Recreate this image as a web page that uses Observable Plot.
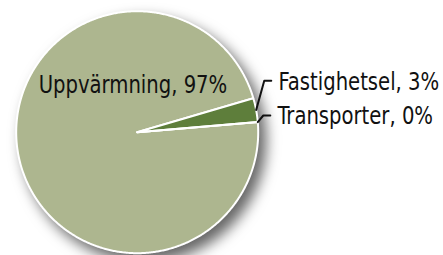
<!DOCTYPE html>
<html><head><meta charset="utf-8">
<script src="https://cdn.jsdelivr.net/npm/d3@7"></script>
<script src="https://cdn.jsdelivr.net/npm/@observablehq/plot@0.6"></script>
<style>body{margin:0;background:#fff}</style>
</head><body><div id="chart"></div>
<script>
// ---- data ----
const categories = ["Uppvärmning", "Fastighetsel", "Transporter"];
const shares = [96.8, 3.2, 0.0];
const labelPercents = ["97%", "3%", "0%"];
const colors = ["#adb68f", "#5e7e3b", "#8a9a5b"];

// ---- layout ----
const W = 443, H = 255;
const cx = 136.7, cy = 131.7, R = 121;
const startDeg = 85.2;
const labelLayout = {
  "Uppvärmning": {x: -0.035, y: 0.39, anchor: "middle", leader: false},
  "Fastighetsel": {x: 1.168, y: 0.415, anchor: "start", leader: true},
  "Transporter": {x: 1.160, y: 0.128, anchor: "start", leader: true}
};

const a0 = startDeg * Math.PI / 180;
const arcs = d3.pie().sort(null).startAngle(a0).endAngle(a0 + 2 * Math.PI)(shares);

const slicePts = [];
arcs.forEach((a, i) => {
  const n = Math.max(2, Math.ceil((a.endAngle - a.startAngle) / (Math.PI / 360)));
  slicePts.push({cat: categories[i], x: 0, y: 0});
  for (let k = 0; k <= n; k++) {
    const t = a.startAngle + (a.endAngle - a.startAngle) * k / n;
    slicePts.push({cat: categories[i], x: Math.sin(t), y: Math.cos(t)});
  }
  slicePts.push({cat: categories[i], x: 0, y: 0});
});

const labels = categories.map((c, i) => ({cat: c, text: `${c}, ${labelPercents[i]}`, ...labelLayout[c]}));

const leaderPts = [];
arcs.forEach((a, i) => {
  const L = labelLayout[categories[i]];
  if (!L.leader) return;
  const m = (a.startAngle + a.endAngle) / 2;
  leaderPts.push({cat: categories[i], x: Math.sin(m) * 1.0, y: Math.cos(m) * 1.0});
  leaderPts.push({cat: categories[i], x: L.x - 0.118, y: L.y + 0.01});
  leaderPts.push({cat: categories[i], x: L.x - 0.06, y: L.y + 0.01});
});

const font = {fontSize: 22.5, fontFamily: "DejaVu Sans Condensed", fill: "#111"};
const plot = Plot.plot({
  width: W, height: H,
  margin: 0,
  x: {domain: [-cx / R, (W - cx) / R], range: [0, W], axis: null},
  y: {domain: [-(H - cy) / R, cy / R], range: [H, 0], axis: null},
  color: {domain: categories, range: colors},
  marks: [
    Plot.line(slicePts, {x: "x", y: "y", z: "cat", fill: "cat", stroke: "white", strokeWidth: 2, strokeLinejoin: "round", curve: "linear"}),
    Plot.line(leaderPts, {x: "x", y: "y", z: "cat", stroke: "#111", strokeWidth: 2}),
    Plot.text(labels.filter(d => d.anchor === "middle"), {x: "x", y: "y", text: "text", textAnchor: "middle", ...font}),
    Plot.text(labels.filter(d => d.anchor === "start"), {x: "x", y: "y", text: "text", textAnchor: "start", ...font})
  ]
});
const pieG = plot.querySelector('g[aria-label="line"]');
if (pieG) pieG.style.filter = "drop-shadow(7px 8px 7px rgba(0,0,0,0.6))";
plot.querySelectorAll('g[aria-label="text"] text').forEach(t => t.setAttribute("transform", (t.getAttribute("transform") || "") + " scale(0.97,1.08)"));
document.getElementById("chart").appendChild(plot);
</script>
</body></html>
